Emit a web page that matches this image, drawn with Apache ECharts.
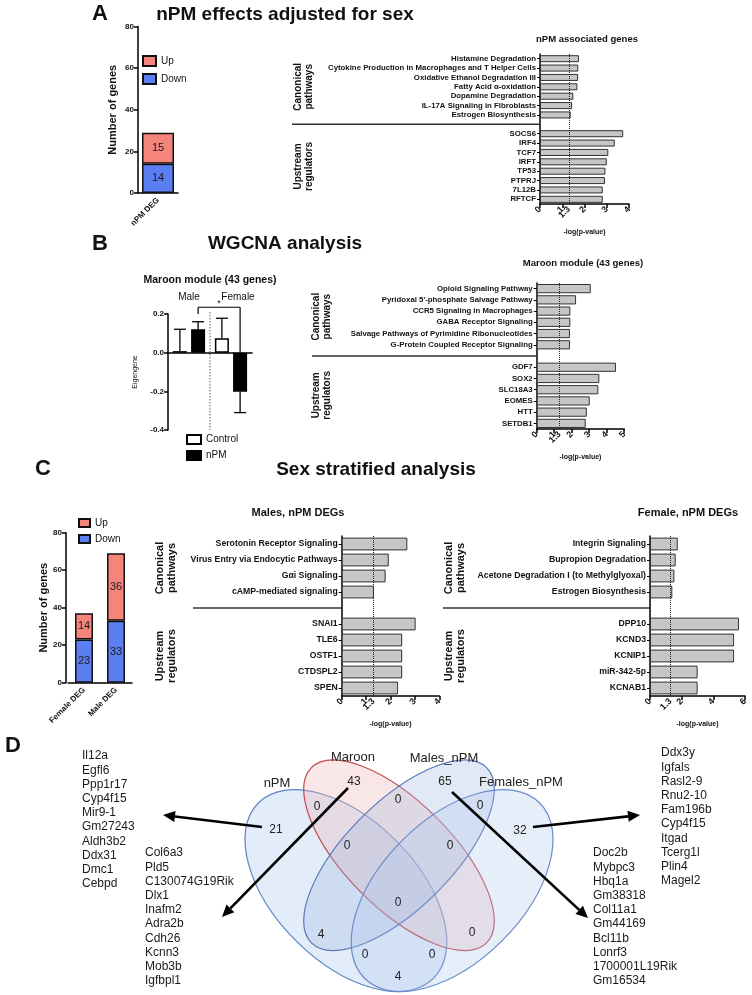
<!DOCTYPE html>
<html><head><meta charset="utf-8">
<script src="https://cdn.jsdelivr.net/npm/echarts@6/dist/echarts.min.js"></script>
<style>html,body{margin:0;padding:0;background:#fff}#c{width:752px;height:995px}</style>
</head><body><div id="c"></div>
<script>
// ---------------- DATA ----------------
const degCategoriesA = ['nPM DEG'];
const degUpA = [15];
const degDownA = [14];
const degTicks = [0, 20, 40, 60, 80];

const nPMCanonical = ['Histamine Degradation','Cytokine Production in Macrophages and T Helper Cells','Oxidative Ethanol Degradation III','Fatty Acid α-oxidation','Dopamine Degradation','IL-17A Signaling in Fibroblasts','Estrogen Biosynthesis'];
const nPMCanonicalVals = [1.75, 1.72, 1.71, 1.68, 1.50, 1.44, 1.38];
const nPMUpstream = ['SOCS6','IRF4','TCF7','IRFT','TP53','PTPRJ','7L12B','RFTCF'];
const nPMUpstreamVals = [3.74, 3.36, 3.07, 3.00, 2.94, 2.92, 2.82, 2.82];
const ticksA = [0, 1, 1.3, 2, 3, 4];

const eigenGroups = ['Male', 'Female'];
const eigenControl = [0.008, 0.074];
const eigenControlErr = [0.113, 0.104];
const eigenNPM = [0.121, -0.202];
const eigenNPMErr = [0.039, 0.108];
const eigenTicks = [-0.4, -0.2, 0, 0.2];

const maroonCanonical = ['Opioid Signaling Pathway',"Pyridoxal 5'-phosphate Salvage Pathway",'CCR5 Signaling in Macrophages','GABA Receptor Signaling','Salvage Pathways of Pyrimidine Ribonucleotides','G-Protein Coupled Receptor Signaling'];
const maroonCanonicalVals = [3.09, 2.25, 1.92, 1.92, 1.90, 1.90];
const maroonUpstream = ['GDF7','SOX2','SLC18A3','EOMES','HTT','SETDB1'];
const maroonUpstreamVals = [4.53, 3.58, 3.52, 3.03, 2.86, 2.80];
const ticksB = [0, 1, 1.3, 2, 3, 4, 5];

const degCategoriesC = ['Female DEG', 'Male DEG'];
const degUpC = [14, 36];
const degDownC = [23, 33];

const maleCanonical = ['Serotonin Receptor Signaling','Virus Entry via Endocytic Pathways','Gαi Signaling','cAMP-mediated signaling'];
const maleCanonicalVals = [2.69, 1.93, 1.80, 1.32];
const maleUpstream = ['SNAI1','TLE6','OSTF1','CTDSPL2','SPEN'];
const maleUpstreamVals = [3.03, 2.48, 2.48, 2.48, 2.31];
const ticksCm = [0, 1, 1.3, 2, 3, 4];

const femaleCanonical = ['Integrin Signaling','Bupropion Degradation','Acetone Degradation I (to Methylglyoxal)','Estrogen Biosynthesis'];
const femaleCanonicalVals = [1.75, 1.62, 1.54, 1.41];
const femaleUpstream = ['DPP10','KCND3','KCNIP1','miR-342-5p','KCNAB1'];
const femaleUpstreamVals = [5.62, 5.31, 5.31, 3.01, 3.01];
const ticksCf = [0, 1.3, 2, 4, 6];

const vennSets = ['nPM', 'Maroon', 'Males_nPM', 'Females_nPM'];
const vennRegions = ['nPM','Maroon','Males_nPM','Females_nPM','nPM&Maroon','Maroon&Males','Males&Females','nPM&Maroon&Males','Maroon&Males&Females','all','nPM&Males','Maroon&Females','nPM&Males&Females','nPM&Maroon&Females','nPM&Females'];
const vennCounts = [21, 43, 65, 32, 0, 0, 0, 0, 0, 0, 4, 0, 0, 0, 4];

const genesNPM = ['Il12a','Egfl6','Ppp1r17','Cyp4f15','Mir9-1','Gm27243','Aldh3b2','Ddx31','Dmc1','Cebpd'];
const genesMaroon = ['Col6a3','Pld5','C130074G19Rik','Dlx1','Inafm2','Adra2b','Cdh26','Kcnn3','Mob3b','Igfbpl1'];
const genesMales = ['Doc2b','Mybpc3','Hbq1a','Gm38318','Col11a1','Gm44169','Bcl11b','Lonrf3','1700001L19Rik','Gm16534'];
const genesFemales = ['Ddx3y','Igfals','Rasl2-9','Rnu2-10','Fam196b','Cyp4f15','Itgad','Tcerg1l','Plin4','Magel2'];

// ---------------- STYLE / LAYOUT ----------------
const FF = '"Liberation Sans", Arial, Helvetica, sans-serif';
const UP_COLOR = '#f5847b', DOWN_COLOR = '#5b7ff2';
const AX = {color: '#000', width: 1.5};

const chart = echarts.init(document.getElementById('c'), null, {renderer: 'canvas', width: 752, height: 995});

const grids = [], xAxes = [], yAxes = [], series = [];

function addStacked(gridPos, cats, down, up, barW, yOffset, nameGap) {
  const gi = grids.length;
  grids.push(gridPos);
  xAxes.push({type: 'category', gridIndex: gi, data: cats,
    axisLine: {lineStyle: AX}, axisTick: {alignWithLabel: true, length: 4, lineStyle: AX},
    axisLabel: {rotate: 45, fontSize: 8, fontWeight: 'bold', fontFamily: FF, color: '#111', margin: 6, interval: 0}});
  yAxes.push({type: 'value', gridIndex: gi, min: 0, max: 80, interval: 20, offset: yOffset || 0,
    axisLine: {show: true, lineStyle: AX}, axisTick: {show: true, length: 4, lineStyle: AX}, splitLine: {show: false},
    axisLabel: {fontSize: 8, fontWeight: 'bold', fontFamily: FF, color: '#111', margin: 4},
    name: 'Number of genes', nameLocation: 'middle', nameGap: nameGap,
    nameTextStyle: {fontSize: 11, fontWeight: 'bold', fontFamily: FF, color: '#111'}});
  const lab = {show: true, position: 'inside', fontSize: 11, color: '#1a1a1a', fontFamily: FF};
  series.push({name: 'Down', type: 'bar', stack: 's' + gi, xAxisIndex: gi, yAxisIndex: gi, data: down, barWidth: barW,
    itemStyle: {color: DOWN_COLOR, borderColor: '#111', borderWidth: 1.5}, label: lab});
  series.push({name: 'Up', type: 'bar', stack: 's' + gi, xAxisIndex: gi, yAxisIndex: gi, data: up, barWidth: barW,
    itemStyle: {color: UP_COLOR, borderColor: '#111', borderWidth: 1.5}, label: lab});
  return gi;
}

function addHBar(gridPos, can, canV, up, upV, max, interval, ticks, fontSize, gap) {
  const gi = grids.length;
  grids.push(gridPos);
  const cats = can.concat([''], up);
  const vals = canV.concat(['-'], upV);
  xAxes.push({type: 'value', gridIndex: gi, min: 0, max: max, interval: interval,
    axisLine: {show: true, lineStyle: AX}, splitLine: {show: false},
    axisTick: {show: true, length: 4, lineStyle: AX, customValues: ticks.filter(t => t !== 1.3)},
    axisLabel: {customValues: ticks, rotate: 45, fontSize: 9, fontWeight: 'bold', fontFamily: FF, color: '#111', margin: 4,
      formatter: v => String(v)},
    name: '-log(p-value)', nameLocation: 'middle', nameGap: 25,
    nameTextStyle: {fontSize: 7, fontWeight: 'bold', fontFamily: FF, color: '#111'}});
  yAxes.push({type: 'category', gridIndex: gi, inverse: true, data: cats,
    axisLine: {show: true, lineStyle: AX},
    axisTick: {show: true, alignWithLabel: true, length: 3, lineStyle: {color: '#000', width: 1}, interval: (i, v) => v !== ''},
    axisLabel: {fontSize: fontSize, fontWeight: 'bold', fontFamily: FF, color: '#111', margin: 4, interval: 0}});
  series.push({type: 'bar', xAxisIndex: gi, yAxisIndex: gi, data: vals, barCategoryGap: gap,
    itemStyle: {color: '#c6c6c6', borderColor: '#333', borderWidth: 1},
    markLine: {silent: true, symbol: 'none', label: {show: false}, animation: false,
      lineStyle: {type: 'dotted', color: '#222', width: 1}, data: [{xAxis: 1.3}]}});
  return {gi: gi, nCan: can.length, nAll: cats.length};
}

// Panel A
const gA1 = addStacked({left: 138, top: 26.5, width: 40, height: 166.5}, degCategoriesA, degDownA, degUpA, 32, 0, 20);
const hA = addHBar({left: 540, top: 54, width: 89, height: 150}, nPMCanonical, nPMCanonicalVals, nPMUpstream, nPMUpstreamVals, 4, 1, ticksA, 7.8, '25%');

// Panel B left (eigengene)
const gB1 = grids.length;
grids.push({left: 168, top: 314, width: 84, height: 116});
xAxes.push({type: 'category', gridIndex: gB1, data: eigenGroups,
  axisLine: {onZero: true, lineStyle: AX}, axisTick: {show: false}, axisLabel: {show: false}});
yAxes.push({type: 'value', gridIndex: gB1, min: -0.4, max: 0.2, interval: 0.2,
  axisLine: {show: true, lineStyle: AX}, axisTick: {show: true, length: 4, lineStyle: AX}, splitLine: {show: false},
  axisLabel: {fontSize: 8, fontWeight: 'bold', fontFamily: FF, color: '#111', margin: 4, formatter: v => v.toFixed(1)},
  name: 'Eigengene', nameLocation: 'middle', nameGap: 29,
  nameTextStyle: {fontSize: 7, fontFamily: FF, color: '#111'}});
const EB_BW = 14, EB_GAP = 0.3, EB_OFF = EB_BW * (1 + EB_GAP) / 2;
series.push({name: 'Control', type: 'bar', xAxisIndex: gB1, yAxisIndex: gB1, data: eigenControl, barWidth: EB_BW, barGap: '30%',
  itemStyle: {color: '#fff', borderColor: '#000', borderWidth: 1.5}});
series.push({name: 'nPM', type: 'bar', xAxisIndex: gB1, yAxisIndex: gB1, data: eigenNPM, barWidth: EB_BW, barGap: '30%',
  itemStyle: {color: '#000', borderColor: '#000', borderWidth: 1.5}});
function errSeries(means, errs, off) {
  return {type: 'custom', xAxisIndex: gB1, yAxisIndex: gB1, z: 5, silent: true,
    encode: {x: 0, y: 1},
    data: means.map((m, i) => [i, m, errs[i]]),
    renderItem: function (params, api) {
      const i = api.value(0), m = api.value(1), e = api.value(2);
      const end = m >= 0 ? m + e : m - e;
      const p0 = api.coord([i, m]), p1 = api.coord([i, end]);
      const x = p0[0] + off;
      const st = {stroke: '#000', lineWidth: 1.3};
      return {type: 'group', children: [
        {type: 'line', shape: {x1: x, y1: p0[1], x2: x, y2: p1[1]}, style: st},
        {type: 'line', shape: {x1: x - 6, y1: p1[1], x2: x + 6, y2: p1[1]}, style: st}
      ]};
    }};
}
series.push(errSeries(eigenControl, eigenControlErr, -EB_OFF));
series.push(errSeries(eigenNPM, eigenNPMErr, EB_OFF));

const hB = addHBar({left: 536.7, top: 283, width: 87.5, height: 146}, maroonCanonical, maroonCanonicalVals, maroonUpstream, maroonUpstreamVals, 5, 1, ticksB, 7.8, '18%');

// Panel C
const gC1 = addStacked({left: 68, top: 532.7, width: 64, height: 150}, degCategoriesC, degDownC, degUpC, 18, 2, 15);
const hCm = addHBar({left: 341.7, top: 536, width: 97.6, height: 160}, maleCanonical, maleCanonicalVals, maleUpstream, maleUpstreamVals, 4, 1, ticksCm, 8.7, '20%');
const hCf = addHBar({left: 650, top: 536, width: 95, height: 160}, femaleCanonical, femaleCanonicalVals, femaleUpstream, femaleUpstreamVals, 6, 2, ticksCf, 8.7, '20%');

const legTxt = {fontSize: 10, fontFamily: FF, color: '#111'};
const option = {
  animation: false,
  backgroundColor: '#fff',
  grid: grids, xAxis: xAxes, yAxis: yAxes, series: series,
  legend: [
    {data: ['Up', 'Down'], orient: 'vertical', left: 142, top: 55, itemWidth: 13, itemHeight: 10, itemGap: 6, icon: 'rect', selectedMode: false, textStyle: legTxt, padding: 0},
    {data: ['Up', 'Down'], orient: 'vertical', left: 78, top: 518, itemWidth: 11, itemHeight: 8, itemGap: 6, icon: 'rect', selectedMode: false, textStyle: legTxt, padding: 0},
    {data: ['Control', 'nPM'], orient: 'vertical', left: 186, top: 434, itemWidth: 14, itemHeight: 9, itemGap: 5, icon: 'rect', selectedMode: false, textStyle: legTxt, padding: 0}
  ]
};
chart.setOption(option);

// ---------------- ANNOTATIONS ----------------
const G = [];
function text(x, y, str, o) {
  o = o || {};
  G.push({type: 'text', x: x, y: y, rotation: o.rot || 0, z: 100, silent: true,
    style: {text: str, fill: o.color || '#111', fontSize: o.size || 10, fontWeight: o.weight || 'normal', fontFamily: FF,
      align: o.align || 'center', verticalAlign: o.va || 'middle', textAlign: o.align || 'center', textVerticalAlign: o.va || 'middle',
      lineHeight: o.lh || Math.round((o.size || 10) * 1.15)}});
}
function line(x1, y1, x2, y2, o) {
  o = o || {};
  G.push({type: 'line', z: 100, silent: true, shape: {x1: x1, y1: y1, x2: x2, y2: y2},
    style: {stroke: o.color || '#000', lineWidth: o.w || 1, lineDash: o.dash || null}});
}
function arrow(x1, y1, x2, y2) {
  const dx = x2 - x1, dy = y2 - y1, L = Math.hypot(dx, dy), ux = dx / L, uy = dy / L;
  const hl = 12, hw = 5.5, bx = x2 - ux * hl, by = y2 - uy * hl;
  line(x1, y1, bx, by, {w: 2.6});
  G.push({type: 'polygon', z: 100, silent: true, shape: {points: [[x2, y2], [bx - uy * hw, by + ux * hw], [bx + uy * hw, by - ux * hw]]}, style: {fill: '#000'}});
}
const px = (g, a, b) => chart.convertToPixel({gridIndex: g}, [a, b]);

// panel letters and titles
text(100, 14, 'A', {size: 22, weight: 'bold'});
text(285, 15, 'nPM effects adjusted for sex', {size: 19, weight: 'bold'});
text(100, 244, 'B', {size: 22, weight: 'bold'});
text(285, 244, 'WGCNA analysis', {size: 19, weight: 'bold'});
text(43, 469, 'C', {size: 22, weight: 'bold'});
text(376, 470, 'Sex stratified analysis', {size: 19, weight: 'bold'});
text(13, 746, 'D', {size: 22, weight: 'bold'});

text(587, 39, 'nPM associated genes', {size: 9.5, weight: 'bold'});
text(583, 263, 'Maroon module (43 genes)', {size: 9.5, weight: 'bold'});
text(210, 280, 'Maroon module (43 genes)', {size: 10.5, weight: 'bold'});
text(298, 513, 'Males, nPM DEGs', {size: 11, weight: 'bold'});
text(688, 513, 'Female, nPM DEGs', {size: 11, weight: 'bold'});

// group labels + separators for horizontal bar panels
function groups(h, xLab, xSepStart, size) {
  const g = h.gi;
  const yc = (px(g, 0, 0)[1] + px(g, 0, h.nCan - 1)[1]) / 2;
  const yu = (px(g, 0, h.nCan + 1)[1] + px(g, 0, h.nAll - 1)[1]) / 2;
  const ys = px(g, 0, h.nCan)[1];
  const x0 = px(g, 0, 0)[0];
  text(xLab, yc, 'Canonical\npathways', {size: size, weight: 'bold', rot: Math.PI / 2, lh: size * 1.1});
  text(xLab, yu, 'Upstream\nregulators', {size: size, weight: 'bold', rot: Math.PI / 2, lh: size * 1.1});
  line(xSepStart, ys, x0, ys, {w: 1.5, color: '#333'});
}
groups(hA, 304, 292, 10);
groups(hB, 322, 312, 10);
groups(hCm, 166, 193, 11);
groups(hCf, 455, 443, 11);

// panel B left annotations
(function () {
  const c0 = px(gB1, 0, 0), c1 = px(gB1, 1, 0);
  const xm = (c0[0] + c1[0]) / 2;
  const yTop = px(gB1, 0, 0.2)[1], yBot = px(gB1, 0, -0.4)[1];
  line(xm, yTop - 2, xm, yBot, {w: 0.8, dash: [1.5, 1.5], color: '#333'});
  text(c0[0] + 0, 297, 'Male', {size: 10});
  text(c1[0] + 7, 297, 'Female', {size: 10});
  const xl = c0[0] + EB_OFF, xr = c1[0] + EB_OFF;
  const yb = px(gB1, 0, 0.235)[1];
  line(xl, px(gB1, 0, 0.2)[1], xl, yb, {w: 1.2});
  line(xl, yb, xr, yb, {w: 1.2});
  line(xr, yb, xr, px(gB1, 0, 0)[1], {w: 1.2});
  text((xl + xr) / 2, yb - 4, '*', {size: 9});
})();

// ---------------- VENN (panel D) ----------------
const VS = 354, VX = 399, VYT = 760, VTOP = 0.839;
const vp = (u, v) => [VX + (u - 0.5) * VS, VYT + (VTOP - v) * VS];
const vennShapes = [
  {c: vp(0.35, 0.47), a: 0.35, b: 0.20, rot: -Math.PI / 4, fill: 'rgba(170,198,236,0.33)', stroke: '#5d86c2'},
  {c: vp(0.50, 0.57), a: 0.35, b: 0.15, rot: -Math.PI / 4, fill: 'rgba(236,176,176,0.30)', stroke: '#c4494b'},
  {c: vp(0.50, 0.57), a: 0.35, b: 0.15, rot: Math.PI / 4, fill: 'rgba(160,182,226,0.30)', stroke: '#5a78b8'},
  {c: vp(0.65, 0.47), a: 0.35, b: 0.20, rot: Math.PI / 4, fill: 'rgba(172,198,236,0.30)', stroke: '#6a8dca'}
];
vennShapes.forEach(s => {
  G.push({type: 'ellipse', x: s.c[0], y: s.c[1], rotation: s.rot, z: 10, silent: true,
    shape: {cx: 0, cy: 0, rx: s.a * VS, ry: s.b * VS},
    style: {fill: s.fill, stroke: s.stroke, lineWidth: 1.2}});
});
const vennSetLabelPos = [[277, 783], [353, 757], [444, 758], [521, 782]];
vennSets.forEach((n, i) => text(vennSetLabelPos[i][0], vennSetLabelPos[i][1], n, {size: 13, color: '#222'}));
const vennRegionPos = [[276, 830], [354, 782], [445, 782], [520, 831], [317, 807], [398, 800], [480, 806], [347, 846], [450, 846], [398, 903], [321, 935], [472, 933], [365, 955], [432, 955], [398, 977]];
vennCounts.forEach((n, i) => text(vennRegionPos[i][0], vennRegionPos[i][1], String(n), {size: 12, color: '#222'}));

arrow(262, 827, 163, 815);
arrow(348, 788, 222, 917);
arrow(452, 792, 588, 918);
arrow(533, 827, 640, 815);

const geneLH = 14.2;
text(82, 749, genesNPM.join('\n'), {size: 12, align: 'left', va: 'top', lh: geneLH, color: '#1a1a1a'});
text(145, 846, genesMaroon.join('\n'), {size: 12, align: 'left', va: 'top', lh: geneLH, color: '#1a1a1a'});
text(593, 846, genesMales.join('\n'), {size: 12, align: 'left', va: 'top', lh: geneLH, color: '#1a1a1a'});
text(661, 746, genesFemales.join('\n'), {size: 12, align: 'left', va: 'top', lh: geneLH, color: '#1a1a1a'});

chart.setOption({graphic: {elements: G}});
</script></body></html>
